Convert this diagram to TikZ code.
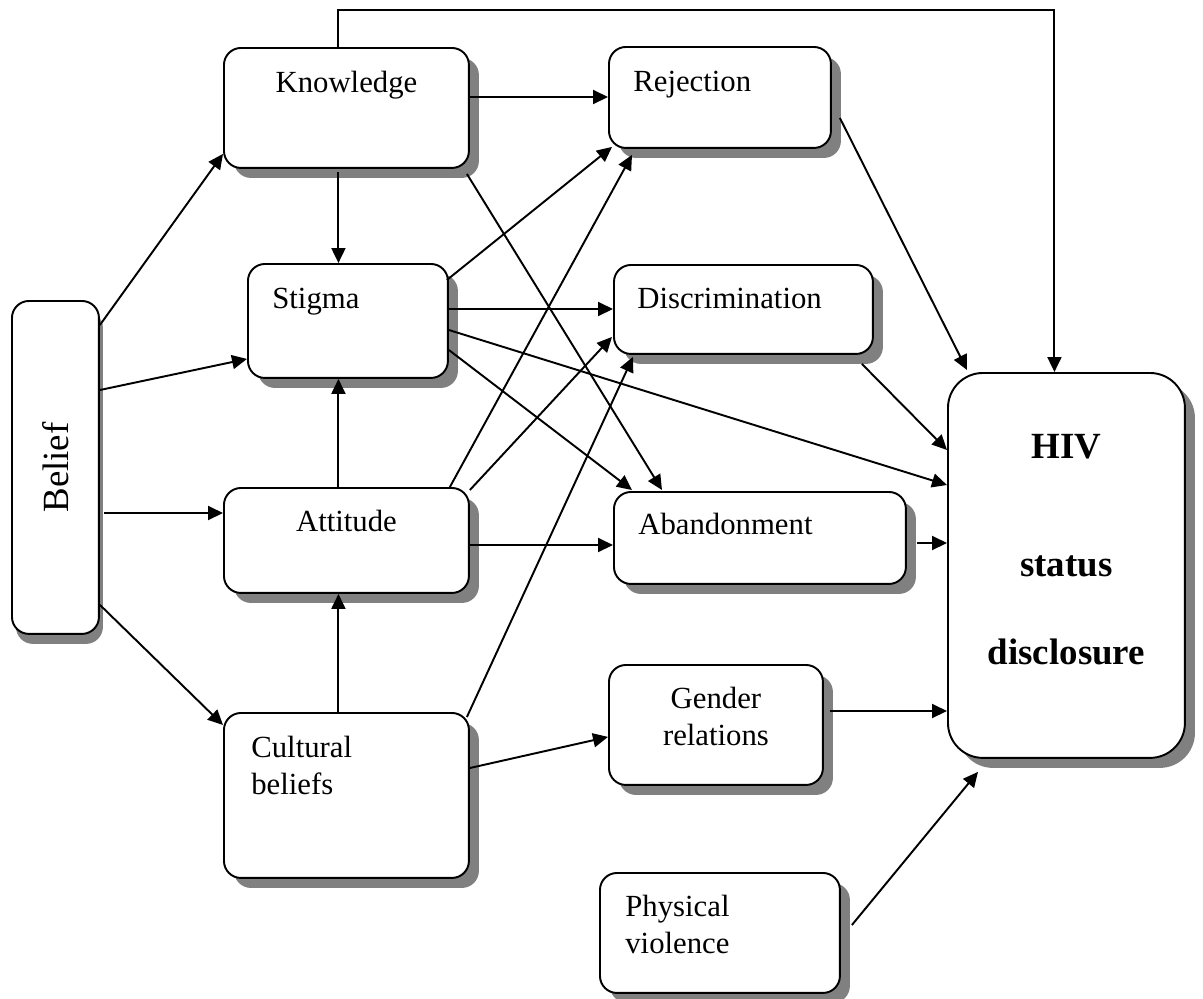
\documentclass[tikz,border=0pt]{standalone}
\usepackage{fontspec}
\setmainfont{Liberation Serif}
\usetikzlibrary{arrows.meta,calc,shadows}

\tikzset{
  box/.style={draw, line width=1.1pt, rounded corners=0.34cm, fill=white, anchor=north west, inner sep=0pt,
    drop shadow={shadow xshift=#1, shadow yshift=-0.2cm, fill=black!50, opacity=1}},
  box/.default=0.2cm,
  txt/.style={font=\fontsize{17.5}{21}\selectfont, inner sep=0pt, align=left},
  arr/.style={line width=1.1pt, -{Triangle[length=0.3cm, width=0.28cm]}},
}

\begin{document}
\begin{tikzpicture}[x=0.02cm, y=-0.02cm]
      \useasboundingbox (0,0) rectangle (1203,998);

      % Boxes with grey drop shadows
      \node[box=0.08cm, minimum width=1.74cm, minimum height=6.66cm] (belief) at (11,300) {};
      \node[box, minimum width=4.9cm, minimum height=2.4cm] (know) at (223,47) {};
      \node[box, minimum width=4.44cm, minimum height=2.02cm] (rej) at (608,46) {};
      \node[box, minimum width=4cm, minimum height=2.28cm] (stig) at (247,263) {};
      \node[box, minimum width=5.18cm, minimum height=1.78cm] (disc) at (613,264) {};
      \node[box, minimum width=4.9cm, minimum height=2.1cm] (att) at (223,487) {};
      \node[box, minimum width=5.84cm, minimum height=1.84cm] (aban) at (613,491) {};
      \node[box, minimum width=4.9cm, minimum height=3.3cm] (cult) at (223,712) {};
      \node[box, minimum width=4.28cm, minimum height=2.4cm] (gend) at (608,664) {};
      \node[box, minimum width=4.8cm, minimum height=2.4cm] (phys) at (599,872) {};
      \node[box, rounded corners=0.7cm, minimum width=4.74cm, minimum height=7.7cm] (hiv) at (947,372) {};

      % Labels
      \node[txt, rotate=90, font=\fontsize{21}{25}\selectfont] (belieftxt) at (belief.center) {Belief};
      \node[txt, anchor=base] (knowtxt) at ($(know.north)+(0,45)$) {Knowledge};
      \node[txt, anchor=base west] (rejtxt) at ($(rej.north west)+(25,45)$) {Rejection};
      \node[txt, anchor=base west] (stigtxt) at ($(stig.north west)+(25,45)$) {Stigma};
      \node[txt, anchor=base west] (disctxt) at ($(disc.north west)+(24,44)$) {Discrimination};
      \node[txt, anchor=base] (atttxt) at ($(att.north)+(0,44)$) {Attitude};
      \node[txt, anchor=base west] (abantxt) at ($(aban.north west)+(25,43)$) {Abandonment};
      \node[txt, anchor=north west] (culttxt) at ($(cult.north west)+(28,24)$) {Cultural\\beliefs};
      \node[txt, anchor=north, align=center] (gendtxt) at ($(gend.north)+(0,23)$) {Gender\\relations};
      \node[txt, anchor=north west] (phystxt) at ($(phys.north west)+(26,23)$) {Physical\\violence};
      \node[txt, anchor=north, align=center, font=\fontsize{21}{25}\selectfont\bfseries] (hivtxt)
        at ($(hiv.north)+(0,62)$) {HIV\\[42pt]status\\[25pt]disclosure};

      % Arrows out of Belief
      \draw[arr] ($(belief.north east)+(0,25)$) -- ($(know.south west)+(0,-15)$);
      \draw[arr] ($(belief.north east)+(0,90)$) -- ($(stig.south west)+(0,-20)$);
      \coordinate (b1) at ($(belief.north east)+(4,213)$);
      \draw[arr] (b1) -- (b1 -| att.west);
      \draw[arr] ($(belief.south east)+(0,-30)$) -- ($(cult.north west)+(0,13)$);

      % Arrows out of Knowledge
      \coordinate (k1) at ($(know.north east)+(0,50)$);
      \draw[arr] (k1) -- (k1 -| rej.west);
      \draw[arr] ($(know.north)+(-8,0)$) -- ++(0,-37) -| ($(hiv.north)+(-12,0)$);
      \coordinate (k2) at ($(know.south)+(-8,3)$);
      \draw[arr] (k2) -- (k2 |- stig.north);
      \draw[arr] ($(know.south east)+(-3,5)$) -- ($(aban.north west)+(49,-1)$);

      % Arrows out of Stigma
      \draw[arr] ($(stig.north east)+(-2,17)$) -- ($(rej.south west)+(4,-2)$);
      \coordinate (s1) at ($(stig.north east)+(0,46)$);
      \draw[arr] (s1) -- (s1 -| disc.west);
      \draw[arr] ($(stig.north east)+(0,67)$) -- ($(hiv.north west)+(0,113)$);
      \draw[arr] ($(stig.north east)+(0,87)$) -- ($(aban.north west)+(19,-1)$);

      % Arrows out of Attitude
      \coordinate (a1) at ($(att.north)+(-8,0)$);
      \draw[arr] (a1) -- (a1 |- stig.south);
      \draw[arr] ($(att.north east)+(-20,0)$) -- ($(rej.south west)+(24,6)$);
      \draw[arr] ($(att.north east)+(0,3)$) -- ($(disc.south west)+(-1,-18)$);
      \coordinate (a2) at ($(att.north east)+(0,58)$);
      \draw[arr] (a2) -- (a2 -| aban.west);

      % Arrows out of Cultural beliefs
      \coordinate (c1) at ($(cult.north)+(-8,0)$);
      \draw[arr] (c1) -- (c1 |- att.south);
      \draw[arr] ($(cult.north east)+(-3,5)$) -- ($(disc.south west)+(20,2)$);
      \draw[arr] ($(cult.north east)+(0,56)$) -- ($(gend.south west)+(0,-49)$);

      % Arrows into HIV status disclosure
      \draw[arr] ($(rej.north east)+(8,72)$) -- ($(hiv.north west)+(20,-2)$);
      \draw[arr] ($(disc.south east)+(-12,9)$) -- ($(hiv.north west)+(0,78)$);
      \coordinate (h1) at ($(aban.north east)+(10,52)$);
      \draw[arr] (h1) -- (h1 -| hiv.west);
      \coordinate (h2) at ($(gend.north east)+(6,47)$);
      \draw[arr] (h2) -- (h2 -| hiv.west);
      \draw[arr] ($(phys.north east)+(11,53)$) -- ($(hiv.south west)+(31,13)$);
    \end{tikzpicture}
\end{document}
